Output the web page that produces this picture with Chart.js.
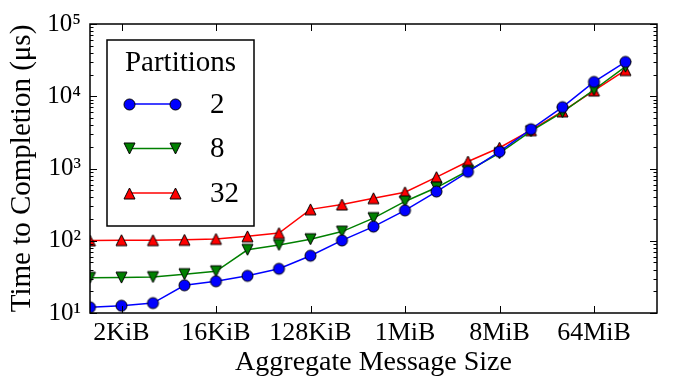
<!DOCTYPE html>
<html><head><meta charset="utf-8">
<script src="https://cdn.jsdelivr.net/npm/chart.js@4/dist/chart.umd.min.js"></script>
<style>html,body{margin:0;padding:0;background:#fff;}#wrap{width:673px;height:379px;}</style>
</head><body><div id="wrap"><canvas id="c" width="673" height="379"></canvas></div>
<script>
// ---- data ----
const sizeLabels = ['1KiB','2KiB','4KiB','8KiB','16KiB','32KiB','64KiB','128KiB','256KiB','512KiB','1MiB','2MiB','4MiB','8MiB','16MiB','32MiB','64MiB','128MiB'];
const sizeLog2 = [10,11,12,13,14,15,16,17,18,19,20,21,22,23,24,25,26,27];
const xTickValues = [11,14,17,20,23,26];
const xTickLabels = ['2KiB','16KiB','128KiB','1MiB','8MiB','64MiB'];
const yTickValues = [10,100,1000,10000,100000];
const yTickLabels = ['10¹','10²','10³','10⁴','10⁵'];
const seriesNames = ['2','8','32'];
const part2  = [12.0,12.6,13.7,24.2,27.5,32.7,40.9,62,101,157,263,480,900,1710,3500,7060,15800,29900];
const part8  = [30.8,30.9,31.4,34.5,37.8,75,87.5,105,134,206,350,545,930,1630,3280,6030,12300,25700];
const part32 = [101,102,102,103,106,115,128,272,318,388,470,760,1250,1940,3390,6170,12000,23000];

const FONT = "'Liberation Serif', 'DejaVu Serif', serif";

function markerCanvas(shape, fill, size) {
  const c = document.createElement('canvas');
  const d = size + 4; c.width = d; c.height = d;
  const g = c.getContext('2d');
  const cx = d / 2, cy = d / 2, h = size / 2;
  g.beginPath();
  if (shape === 'circle') g.arc(cx, cy, h, 0, Math.PI * 2);
  else if (shape === 'down') { g.moveTo(cx - h, cy - h); g.lineTo(cx + h, cy - h); g.lineTo(cx, cy + h); g.closePath(); }
  else { g.moveTo(cx, cy - h); g.lineTo(cx + h, cy + h); g.lineTo(cx - h, cy + h); g.closePath(); }
  g.fillStyle = fill; g.fill();
  g.lineWidth = 1; g.strokeStyle = '#000'; g.stroke();
  return c;
}

const styles = [
  {color: '#0000ff', marker: markerCanvas('circle', '#0000ff', 11)},
  {color: '#008000', marker: markerCanvas('down', '#008000', 11)},
  {color: '#ff0000', marker: markerCanvas('up', '#ff0000', 11)}
];
const seriesValues = [part2, part8, part32];

const datasets = seriesValues.map((vals, i) => ({
  label: seriesNames[i],
  data: vals.map((v, j) => ({x: sizeLog2[j], y: v})),
  borderColor: styles[i].color,
  borderWidth: 1.5,
  pointStyle: styles[i].marker,
  pointRadius: 6,
  tension: 0,
  fill: false
}));

const decorPlugin = {
  id: 'decor',
  afterDraw(chart) {
    const ctx = chart.ctx, ca = chart.chartArea;
    const xs = chart.scales.x, ys = chart.scales.y;
    ctx.save();
    ctx.strokeStyle = '#000';
    ctx.lineWidth = 1;
    const seg = (a, b, c, d) => { ctx.beginPath(); ctx.moveTo(a, b); ctx.lineTo(c, d); ctx.stroke(); };
    xTickValues.forEach(v => {
      const px = Math.round(xs.getPixelForValue(v)) + 0.5;
      seg(px, ca.bottom, px, ca.bottom - 7);
      seg(px, ca.top, px, ca.top + 7);
    });
    for (let k = 0; k < yTickValues.length; k++) {
      const base = yTickValues[k];
      for (let m = 1; m <= 9; m++) {
        const v = base * m;
        if (v > yTickValues[yTickValues.length - 1]) break;
        const len = m === 1 ? 7 : 3.5;
        const py = Math.round(ys.getPixelForValue(v)) + 0.5;
        seg(ca.left, py, ca.left + len, py);
        seg(ca.right, py, ca.right - len, py);
      }
    }
    ctx.lineWidth = 1.5;
    ctx.strokeRect(ca.left, ca.top, ca.right - ca.left, ca.bottom - ca.top);

    // legend
    const bx = ca.left + 17, by = ca.top + 16, bw = 147, bh = 186;
    ctx.fillStyle = '#fff';
    ctx.fillRect(bx, by, bw, bh);
    ctx.lineWidth = 1.5;
    ctx.strokeRect(bx, by, bw, bh);
    ctx.fillStyle = '#000';
    ctx.font = '29px ' + FONT;
    ctx.textAlign = 'center';
    ctx.textBaseline = 'middle';
    ctx.fillText('Partitions', bx + bw / 2, by + 23);
    chart.data.datasets.forEach((ds, i) => {
      const ly = by + 64 + i * 44.5;
      const x1 = bx + 22, x2 = bx + 68;
      ctx.strokeStyle = ds.borderColor; ctx.lineWidth = 1.5;
      seg(x1, ly, x2, ly);
      const m = ds.pointStyle;
      ctx.drawImage(m, Math.round(x1 - m.width / 2), Math.round(ly - m.height / 2));
      ctx.drawImage(m, Math.round(x2 - m.width / 2), Math.round(ly - m.height / 2));
      ctx.fillStyle = '#000';
      ctx.textAlign = 'left';
      ctx.font = '29px ' + FONT;
      ctx.fillText(ds.label, bx + 103, ly + 1);
    });
    ctx.restore();
  }
};

new Chart(document.getElementById('c'), {
  type: 'line',
  data: {datasets},
  plugins: [decorPlugin],
  options: {
    responsive: false,
    devicePixelRatio: 1,
    animation: false,
    events: [],
    layout: {padding: {top: 21, right: 16, left: 0, bottom: 0}},
    plugins: {legend: {display: false}, tooltip: {enabled: false}},
    scales: {
      x: {
        type: 'linear', min: 10, max: 28,
        grid: {display: false, drawTicks: false},
        border: {display: false},
        afterBuildTicks: s => { s.ticks = xTickValues.map(v => ({value: v})); },
        afterFit: s => { s.height = 66; },
        ticks: {
          color: '#000', padding: 5, maxRotation: 0, autoSkip: false,
          font: {family: FONT, size: 26},
          callback: v => xTickLabels[xTickValues.indexOf(v)]
        },
        title: {display: true, text: 'Aggregate Message Size', color: '#000', font: {family: FONT, size: 28}, padding: {top: 0, bottom: 0}}
      },
      y: {
        type: 'logarithmic', min: 10, max: 100000,
        grid: {display: false, drawTicks: false},
        border: {display: false},
        afterBuildTicks: s => { s.ticks = yTickValues.map(v => ({value: v})); },
        afterFit: s => { s.width = 90; },
        ticks: {
          color: '#000', padding: 9, autoSkip: false,
          font: {family: FONT, size: 25},
          callback: v => yTickLabels[yTickValues.indexOf(v)]
        },
        title: {display: true, text: 'Time to Completion (μs)', color: '#000', font: {family: FONT, size: 29}, padding: {top: 5, bottom: 0}}
      }
    }
  }
});
</script>
</body></html>
